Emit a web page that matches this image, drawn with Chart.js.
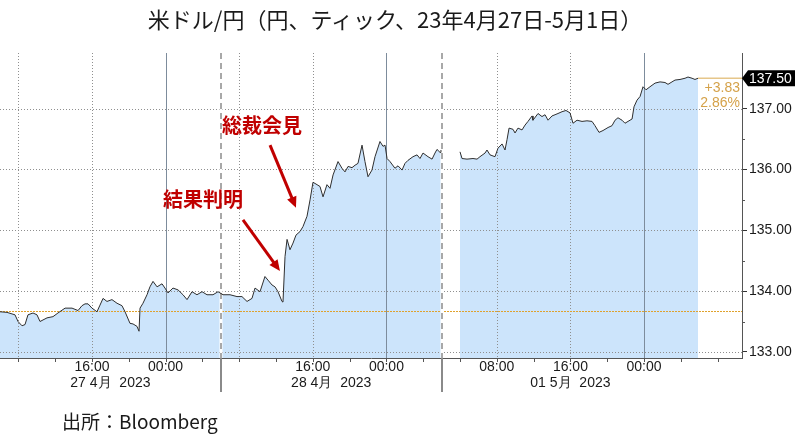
<!DOCTYPE html>
<html lang="ja">
<head>
<meta charset="utf-8">
<title>米ドル/円</title>
<script src="https://cdn.jsdelivr.net/npm/chart.js@4.4.0/dist/chart.umd.min.js"></script>
<style>
  body { margin: 0; background: #fff; }
  #wrap { position: relative; width: 795px; height: 444px; }
  #chart { position: absolute; left: 0; top: 0; }
  #title { position: absolute; left: 0; width: 790px; top: 2px; line-height: 32px; text-align: center;
           font-family: "Noto Sans CJK JP", sans-serif; font-size: 22px; color: #1a1a1a; }
  #source { position: absolute; left: 62px; top: 407px; line-height: 28px;
            font-family: "Noto Sans CJK JP", sans-serif; font-size: 19px; color: #1a1a1a; }
</style>
</head>
<body>
<div id="wrap">
  <canvas id="chart" width="795" height="444"></canvas>
  <div id="title">米ドル/円（円、ティック、23年4月27日-5月1日）</div>
  <div id="source">出所：Bloomberg</div>
</div>
<script>
// chart hours: 0 = 27 Apr 06:00, weekend cut out after 48 (29 Apr 06:00), 01 May hh:00 -> 46 + hh
const aprHours = [0, 0.76, 1.63, 1.96, 2.39, 2.72, 3.04, 3.59, 4.02, 4.35,
    5.11, 5.76, 6.30, 7.07, 7.83, 8.48, 8.91, 9.24, 9.57, 10.0,
    10.54, 10.87, 11.20, 11.63, 12.17, 12.72, 13.26, 13.59, 14.13, 14.46,
    14.89, 15.11, 15.22, 15.54, 15.98, 16.30, 16.63, 17.07, 17.61, 17.93,
    18.26, 18.80, 19.35, 19.89, 20.33, 20.87, 21.41, 21.96, 22.50, 23.15,
    23.70, 24.24, 25.00, 25.76, 26.30, 26.85, 27.39, 27.72, 28.26, 28.80,
    29.13, 29.57, 29.89, 30.22, 30.65, 30.76, 30.98, 31.20, 31.52, 31.85,
    32.17, 32.61, 32.93, 33.37, 33.70, 34.02, 34.46, 34.78, 35.11, 35.54,
    35.87, 36.20, 36.74, 37.17, 37.50, 37.83, 38.26, 38.59, 38.91, 39.35,
    39.67, 40.00, 40.43, 40.76, 41.30, 41.63, 41.85, 42.07, 42.39, 42.93,
    43.26, 43.70, 44.02, 44.35, 44.89, 45.33, 45.65, 45.98, 46.52, 46.96,
    47.28, 47.50, 47.83, 47.93];
const aprPrices = [133.66, 133.65, 133.61, 133.50, 133.43, 133.45, 133.61, 133.64, 133.61, 133.50,
    133.56, 133.58, 133.64, 133.72, 133.72, 133.68, 133.76, 133.79, 133.79, 133.72,
    133.66, 133.77, 133.88, 133.83, 133.86, 133.80, 133.76, 133.66, 133.47, 133.46,
    133.42, 133.34, 133.72, 133.80, 133.94, 134.07, 134.16, 134.07, 134.12, 134.05,
    133.97, 134.05, 134.02, 133.94, 133.86, 133.99, 133.94, 133.99, 133.94, 133.94,
    133.99, 133.94, 133.94, 133.91, 133.91, 133.83, 133.88, 134.05, 133.99, 134.24,
    134.18, 134.10, 134.07, 133.99, 133.83, 133.82, 134.57, 134.85, 134.68, 134.79,
    134.92, 134.98, 135.06, 135.23, 135.50, 135.79, 135.75, 135.72, 135.55, 135.75,
    135.69, 135.91, 136.13, 136.02, 135.96, 136.05, 136.03, 136.07, 136.10, 136.40,
    136.13, 135.88, 135.99, 136.21, 136.46, 136.38, 136.40, 136.18, 136.13, 136.02,
    136.06, 135.99, 136.10, 136.15, 136.21, 136.24, 136.18, 136.27, 136.21, 136.17,
    136.27, 136.33, 136.28, 136.32];
const mayHours = [50.0, 50.22, 50.76, 51.41, 51.85, 52.17, 52.72, 52.93, 53.26, 53.80,
    54.13, 54.57, 54.89, 55.11, 55.33, 55.76, 55.98, 56.30, 56.74, 57.07,
    57.39, 57.83, 57.93, 58.48, 58.91, 59.24, 59.57, 60.00, 60.33, 60.65,
    61.09, 61.52, 61.96, 62.28, 62.72, 63.26, 63.80, 64.35, 64.67, 65.11,
    65.54, 66.09, 66.52, 66.85, 67.17, 67.61, 67.93, 68.26, 68.70, 68.91,
    69.24, 69.57, 69.89, 70.22, 70.65, 71.20, 71.74, 72.28, 72.61, 73.04,
    73.37, 73.91, 74.46, 74.78, 75.22, 75.54, 75.87];
const mayPrices = [136.29, 136.18, 136.17, 136.18, 136.17, 136.21, 136.27, 136.32, 136.24, 136.21,
    136.35, 136.42, 136.32, 136.49, 136.68, 136.66, 136.60, 136.68, 136.65, 136.73,
    136.79, 136.88, 136.81, 136.92, 136.87, 136.90, 136.81, 136.88, 136.90, 136.92,
    136.95, 136.97, 136.93, 136.76, 136.81, 136.79, 136.80, 136.79, 136.72, 136.61,
    136.64, 136.69, 136.72, 136.81, 136.85, 136.81, 136.76, 136.79, 136.83, 137.03,
    137.14, 137.20, 137.36, 137.31, 137.36, 137.42, 137.44, 137.43, 137.40, 137.44,
    137.47, 137.48, 137.50, 137.52, 137.50, 137.48, 137.50];

const prevClose = 133.67;
const changeLabels = ['+3.83', '2.86%'];

const yTicks = [133, 134, 135, 136, 137];
const yMinorTicks = [133.5, 134.5, 135.5, 136.5, 137.5];
const timeTickHours = [10, 18, 34, 42, 54, 62, 70];
const timeLabels = ['16:00', '00:00', '16:00', '00:00', '08:00', '16:00', '00:00'];
const dateCenterHours = [12, 36, 62];
const dateLabels = ['27 4月  2023', '28 4月  2023', '01 5月  2023'];
const dottedHours = [2, 10, 26, 34, 54, 62];
const midnightHours = [18, 42, 70];
const dayBreakHours = [24, 48];
const axisTickHours = [2, 6, 10, 14, 18, 22, 26, 30, 34, 38, 42, 46, 50, 54, 58, 62, 66, 70, 74, 78];

const notes = [
    { text: '総裁会見', at: [28.48, 136.73], from: [29.35, 136.40], to: [32.17, 135.37] },
    { text: '結果判明', at: [22.07, 135.50], from: [26.41, 135.17], to: [30.43, 134.33] }
];

let points = aprHours.map((h, i) => ({ x: h, y: aprPrices[i] }));
points.push({ x: 49, y: null }); // weekend gap
points = points.concat(mayHours.map((h, i) => ({ x: h, y: mayPrices[i] })));

const axisFont = { family: 'Liberation Sans', size: 14 };

function line(ctx, x1, y1, x2, y2) {
    ctx.beginPath();
    ctx.moveTo(x1, y1);
    ctx.lineTo(x2, y2);
    ctx.stroke();
}

function crisp(v) {
    return Math.round(v) + 0.5;
}

const guides = {
    id: 'guides',
    // grid goes over the blue fill but under the price line
    afterDatasetDraw(chart, args) {
        if (args.index !== 0) return;
        const { ctx, chartArea: a, scales: { x, y } } = chart;
        ctx.save();
        ctx.lineWidth = 1;

        ctx.strokeStyle = '#8f8f8f';
        ctx.setLineDash([1, 2]);
        yTicks.forEach(v => {
            const py = crisp(y.getPixelForValue(v));
            line(ctx, a.left, py, a.right, py);
        });
        dottedHours.forEach(h => {
            const px = crisp(x.getPixelForValue(h));
            line(ctx, px, a.top, px, a.bottom);
        });

        ctx.setLineDash([]);
        ctx.strokeStyle = '#7d8c9c';
        midnightHours.forEach(h => {
            const px = crisp(x.getPixelForValue(h));
            line(ctx, px, a.top, px, a.bottom);
        });

        // previous close
        ctx.strokeStyle = '#e0a22c';
        ctx.setLineDash([2, 1]);
        const pc = crisp(y.getPixelForValue(prevClose));
        line(ctx, a.left, pc, a.right, pc);

        // day breaks
        dayBreakHours.forEach(h => {
            const px = Math.round(x.getPixelForValue(h));
            ctx.setLineDash([]);
            ctx.strokeStyle = '#ffffff';
            ctx.lineWidth = 3;
            line(ctx, px, a.top, px, a.bottom);
            ctx.setLineDash([6, 4]);
            ctx.strokeStyle = '#a8a8a8';
            ctx.lineWidth = 2;
            line(ctx, px, a.top, px, a.bottom);
        });
        ctx.restore();
    },
    afterDraw(chart) {
        const { ctx, chartArea: a, scales: { x, y } } = chart;
        ctx.save();

        // x axis tick marks and day break extensions
        ctx.strokeStyle = '#555';
        ctx.lineWidth = 1;
        axisTickHours.forEach(h => {
            const px = crisp(x.getPixelForValue(h));
            line(ctx, px, a.bottom, px, a.bottom + 4);
        });
        ctx.strokeStyle = '#8a8a8a';
        ctx.lineWidth = 2;
        dayBreakHours.forEach(h => {
            const px = Math.round(x.getPixelForValue(h));
            line(ctx, px, a.bottom, px, a.bottom + 34);
        });

        // minor ticks on the price axis
        ctx.strokeStyle = '#555';
        ctx.lineWidth = 1;
        yMinorTicks.forEach(v => {
            const py = crisp(y.getPixelForValue(v));
            line(ctx, a.right, py, a.right + 3, py);
        });

        // last price line + tag
        const lastH = mayHours[mayHours.length - 1];
        const lastP = mayPrices[mayPrices.length - 1];
        const py = y.getPixelForValue(lastP);
        ctx.strokeStyle = '#e6c68a';
        ctx.lineWidth = 1.5;
        line(ctx, x.getPixelForValue(lastH), py, a.right, py);

        ctx.fillStyle = '#000';
        ctx.beginPath();
        ctx.moveTo(a.right, py);
        ctx.lineTo(a.right + 6, py - 8);
        ctx.lineTo(a.right + 53, py - 8);
        ctx.lineTo(a.right + 53, py + 8);
        ctx.lineTo(a.right + 6, py + 8);
        ctx.closePath();
        ctx.fill();
        ctx.fillStyle = '#fff';
        ctx.font = '14px "Liberation Sans"';
        ctx.textBaseline = 'middle';
        ctx.textAlign = 'left';
        ctx.fillText(lastP.toFixed(2), a.right + 7, py + 0.5);

        ctx.fillStyle = '#d5a24a';
        ctx.textAlign = 'right';
        ctx.fillText(changeLabels[0], a.right - 2, py + 10);
        ctx.fillText(changeLabels[1], a.right - 2, py + 25);

        // annotations
        ctx.fillStyle = '#c00000';
        ctx.strokeStyle = '#c00000';
        ctx.font = 'bold 20px "Noto Sans CJK JP"';
        ctx.textAlign = 'center';
        notes.forEach(n => {
            ctx.fillText(n.text, x.getPixelForValue(n.at[0]), y.getPixelForValue(n.at[1]));
            const x1 = x.getPixelForValue(n.from[0]), y1 = y.getPixelForValue(n.from[1]);
            const x2 = x.getPixelForValue(n.to[0]), y2 = y.getPixelForValue(n.to[1]);
            const ang = Math.atan2(y2 - y1, x2 - x1);
            const head = 11;
            ctx.lineWidth = 3;
            line(ctx, x1, y1, x2 - Math.cos(ang) * head * 0.8, y2 - Math.sin(ang) * head * 0.8);
            ctx.beginPath();
            ctx.moveTo(x2, y2);
            ctx.lineTo(x2 - head * Math.cos(ang) + 5 * Math.sin(ang), y2 - head * Math.sin(ang) - 5 * Math.cos(ang));
            ctx.lineTo(x2 - head * Math.cos(ang) - 5 * Math.sin(ang), y2 - head * Math.sin(ang) + 5 * Math.cos(ang));
            ctx.closePath();
            ctx.fill();
        });
        ctx.restore();
    }
};

new Chart(document.getElementById('chart'), {
    type: 'line',
    data: {
        datasets: [{
            data: points,
            fill: 'start',
            backgroundColor: '#cce4fb',
            borderWidth: 0,
            pointRadius: 0,
            spanGaps: false,
            order: 2
        }, {
            data: points,
            fill: false,
            borderColor: '#2e2e2e',
            borderWidth: 1,
            pointRadius: 0,
            spanGaps: false,
            order: 1
        }]
    },
    options: {
        responsive: false,
        animation: false,
        devicePixelRatio: 1,
        layout: { padding: { top: 53, left: 0, right: 0, bottom: 52 } },
        plugins: {
            legend: { display: false },
            tooltip: { enabled: false }
        },
        scales: {
            x: {
                type: 'linear',
                position: 'bottom',
                min: 0,
                max: 80.65,
                weight: 0,
                grid: { display: false, drawTicks: false },
                border: { display: true, color: '#555', width: 1 },
                ticks: {
                    autoSkip: false, maxRotation: 0, padding: 1, color: '#1a1a1a', font: axisFont,
                    callback: (v, i) => timeLabels[i]
                },
                afterBuildTicks: s => { s.ticks = timeTickHours.map(v => ({ value: v })); },
                afterFit: s => { s.height = 17; }
            },
            xDate: {
                type: 'linear',
                position: 'bottom',
                min: 0,
                max: 80.65,
                weight: 1,
                grid: { display: false, drawTicks: false },
                border: { display: false },
                ticks: {
                    autoSkip: false, maxRotation: 0, padding: 0, color: '#1a1a1a', font: axisFont,
                    callback: (v, i) => dateLabels[i]
                },
                afterBuildTicks: s => { s.ticks = dateCenterHours.map(v => ({ value: v })); },
                afterFit: s => { s.height = 17; }
            },
            y: {
                position: 'right',
                min: 132.9,
                max: 137.915,
                grid: { drawOnChartArea: false, color: '#333', tickLength: 5 },
                border: { display: true, color: '#555', width: 1 },
                ticks: {
                    padding: 2, color: '#1a1a1a', font: axisFont,
                    callback: v => v.toFixed(2)
                },
                afterBuildTicks: s => { s.ticks = yTicks.map(v => ({ value: v })); },
                afterFit: s => { s.width = 53; }
            }
        }
    },
    plugins: [guides]
});
</script>
</body>
</html>
